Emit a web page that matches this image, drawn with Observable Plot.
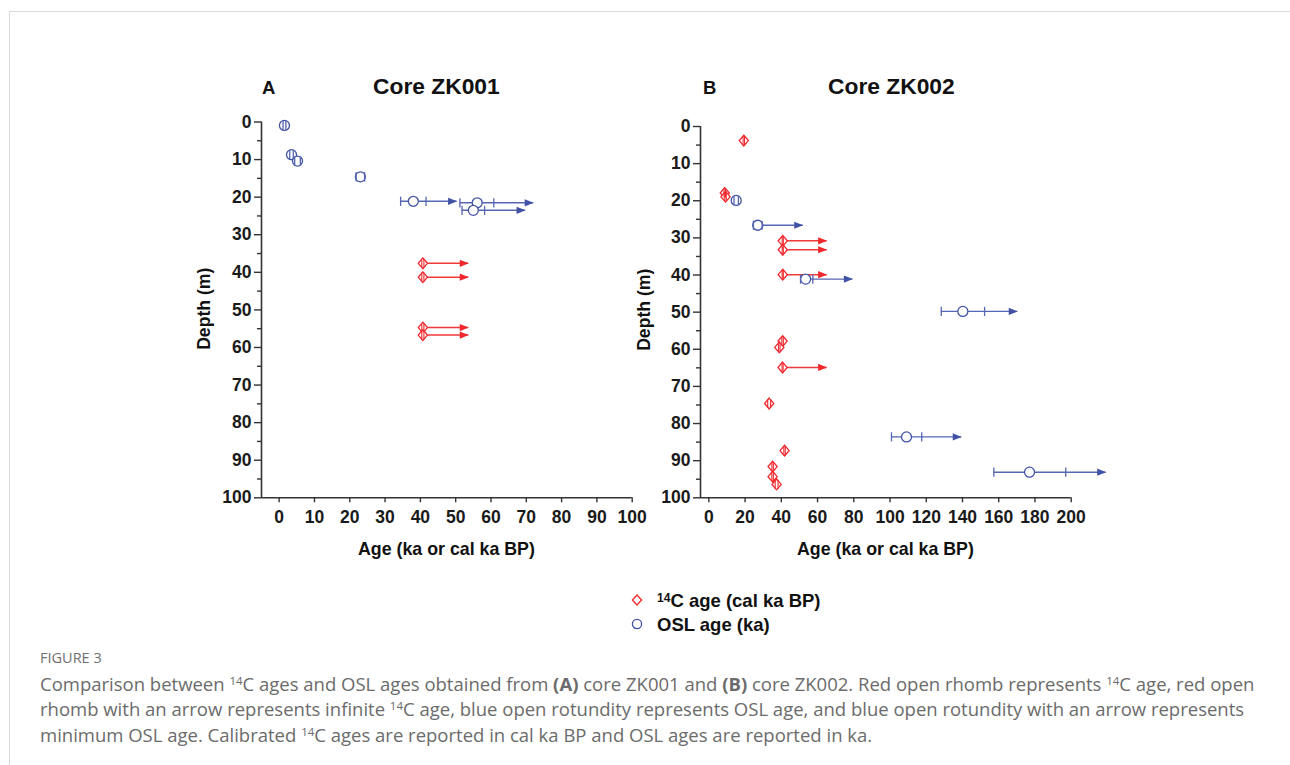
<!DOCTYPE html>
<html>
<head>
<meta charset="utf-8">
<script src="https://cdn.jsdelivr.net/npm/d3@7"></script>
<script src="https://cdn.jsdelivr.net/npm/@observablehq/plot@0.6"></script>
<style>
  html, body { margin: 0; padding: 0; background: #fff; }
  #page { position: relative; width: 1290px; height: 765px; overflow: hidden; background: #fff; }
  #frame { position: absolute; left: 9px; top: 11px; width: 1400px; height: 900px; border-top: 1px solid #d9d9d9; border-left: 1px solid #d9d9d9; }
  .panel { position: absolute; top: 0; }
  .panel svg text { font-weight: bold; }
  .lbl { position: absolute; font-family: Arial, "Liberation Sans", sans-serif; font-weight: bold; color: #111; line-height: 1; white-space: nowrap; }
  .cap { position: absolute; left: 40px; font-family: "Open Sans", sans-serif; color: #6b6b6b; white-space: nowrap; }
  .cap sup { font-size: 0.62em; vertical-align: 0; position: relative; top: -0.55em; }
  .lbl sup { font-size: 0.65em; vertical-align: 0; position: relative; top: -0.45em; }
</style>
</head>
<body>
<div id="page">
  <div id="frame"></div>
  <div id="panelA" class="panel" style="left:190px"></div>
  <div id="panelB" class="panel" style="left:630px"></div>
</div>
<script>
// ---------------- data ----------------
// Core ZK001 — OSL ages (ka)
const a_osl_depth = [0.9, 8.7, 10.4, 14.6, 21.1, 21.5, 23.5];
const a_osl_age   = [1.5, 3.5, 5.2, 23.0, 38.0, 56.1, 55.0];
const a_osl_lo    = [1.1, 3.0, 4.4, 21.8, 34.4, 51.2, 51.8];
const a_osl_hi    = [1.9, 4.0, 6.0, 24.2, 41.6, 60.8, 58.2];
const a_osl_min   = [null, null, null, null, 50.4, 72.1, 69.8];   // arrow tip (minimum age)

// Core ZK001 — 14C ages (cal ka BP), all infinite
const a_c14_depth = [37.6, 41.3, 54.7, 56.7];
const a_c14_age   = [40.7, 40.7, 40.7, 40.7];
const a_c14_lo    = [40.4, 40.4, 40.4, 40.4];
const a_c14_hi    = [41.0, 41.0, 41.0, 41.0];
const a_c14_min   = [53.7, 53.7, 53.7, 53.7];

// Core ZK002 — 14C ages (cal ka BP)
const b_c14_depth = [3.8, 17.9, 18.9, 30.8, 33.2, 39.9, 57.8, 59.5, 64.9, 74.6, 87.3, 91.6, 94.3, 96.4];
const b_c14_age   = [19.3, 8.8, 9.2, 40.8, 40.8, 40.8, 40.7, 38.9, 40.7, 33.3, 41.8, 35.2, 35.2, 37.4];
const b_c14_lo    = [18.9, 8.4, 8.8, 40.5, 40.5, 40.5, 40.3, 38.5, 40.4, 32.5, 41.4, 34.8, 34.8, 36.6];
const b_c14_hi    = [19.7, 9.2, 9.6, 41.1, 41.1, 41.1, 41.1, 39.3, 41.0, 34.1, 42.2, 35.6, 35.6, 38.2];
const b_c14_min   = [null, null, null, 65.3, 65.3, 65.3, null, null, 65.3, null, null, null, null, null];

// Core ZK002 — OSL ages (ka)
const b_osl_depth = [19.9, 26.6, 41.1, 49.8, 83.6, 93.1];
const b_osl_age   = [15.1, 27.0, 53.4, 140.2, 109.1, 177.0];
const b_osl_lo    = [13.9, 24.6, 50.6, 128.3, 100.8, 157.3];
const b_osl_hi    = [16.3, 29.4, 57.4, 152.2, 117.5, 197.0];
const b_osl_min   = [null, 52.1, 79.5, 170.5, 139.6, 219.3];

// axes
const depthDomain = [0, 100];
const depthMajor = [0, 10, 20, 30, 40, 50, 60, 70, 80, 90, 100];
const depthMinor = [5, 15, 25, 35, 45, 55, 65, 75, 85, 95];
const ageTicksA = [0, 10, 20, 30, 40, 50, 60, 70, 80, 90, 100];
const ageTicksB = [0, 20, 40, 60, 80, 100, 120, 140, 160, 180, 200];
const ageDomainA = [-5.0, 100];
const ageDomainB = [-4.6, 200];

const RED = "#f0282d", RED_LINE = "#f23a3a";
const BLUE = "#4152a6", BLUE_LINE = "#5566b2";

// ---------------- helpers ----------------
function table(depth, age, lo, hi, min) {
  return age.map((a, i) => ({depth: depth[i], age: a, lo: lo[i], hi: hi[i], min: min[i],
    end: min[i] != null ? min[i] : hi[i]}));
}
const arrowHead = {draw(ctx) { ctx.moveTo(0, 0); ctx.lineTo(-9, -3.6); ctx.lineTo(-9, 3.6); ctx.closePath(); }};
const diamond = {draw(ctx) { ctx.moveTo(0, -5.4); ctx.lineTo(4.6, 0); ctx.lineTo(0, 5.4); ctx.lineTo(-4.6, 0); ctx.closePath(); }};
const capBar = {draw(ctx) { ctx.moveTo(0, -4.6); ctx.lineTo(0, 4.6); }};

function panel(osl, c14, xDomain, xTicks, marginTop, marginLeft, marginRight, width) {
  const xMin = xDomain[0], xMax = xDomain[1];
  return Plot.plot({
    width, height: 570,
    marginTop, marginBottom: 72.7, marginLeft, marginRight,
    style: {fontFamily: "Arial, 'Liberation Sans', sans-serif", fontSize: "17.5px", color: "#1a1a1a", overflow: "visible", background: "transparent"},
    x: {domain: xDomain},
    y: {domain: depthDomain, reverse: true},
    marks: [
      // axis lines
      Plot.ruleY([depthDomain[1]], {x1: xMin, x2: xMax, stroke: "#333", strokeWidth: 1.6}),
      Plot.ruleX([xMin], {y1: depthDomain[0], y2: depthDomain[1], stroke: "#333", strokeWidth: 1.6}),
      Plot.axisX(xTicks, {anchor: "bottom", tickSize: 5, tickPadding: 8, label: null, stroke: "#333", strokeWidth: 1.4, fontSize: 17.5, fontWeight: "bold"}),
      Plot.axisY(depthMajor, {anchor: "left", tickSize: 7, tickPadding: 3, label: null, stroke: "#333", strokeWidth: 1.4, fontSize: 17.5, fontWeight: "bold"}),
      Plot.axisY(depthMinor, {anchor: "left", tickSize: 4, tickPadding: 3, label: null, stroke: "#333", strokeWidth: 1.4, tickFormat: () => ""}),
      // error / arrow lines
      Plot.ruleY(osl, {y: "depth", x1: "lo", x2: "end", stroke: BLUE_LINE, strokeWidth: 1.4}),
      Plot.ruleY(c14.filter(d => d.min != null), {y: "depth", x1: "age", x2: "min", stroke: RED_LINE, strokeWidth: 1.5}),
      // arrow heads
      Plot.dot(osl.filter(d => d.min != null), {x: "min", y: "depth", symbol: arrowHead, fill: BLUE, stroke: "none"}),
      Plot.dot(c14.filter(d => d.min != null), {x: "min", y: "depth", symbol: arrowHead, fill: RED, stroke: "none"}),
      // markers
      Plot.dot(osl, {x: "age", y: "depth", r: 5, fill: "white", stroke: BLUE, strokeWidth: 1.3}),
      Plot.dot(c14, {x: "age", y: "depth", symbol: diamond, fill: "white", stroke: RED, strokeWidth: 1.3}),
      // error caps
      Plot.dot(osl, {x: "lo", y: "depth", symbol: capBar, fill: "none", stroke: BLUE_LINE, strokeWidth: 1.3}),
      Plot.dot(osl, {x: "hi", y: "depth", symbol: capBar, fill: "none", stroke: BLUE_LINE, strokeWidth: 1.3}),
      Plot.dot(c14, {x: "lo", y: "depth", symbol: capBar, fill: "none", stroke: RED, strokeWidth: 1.1}),
      Plot.dot(c14, {x: "hi", y: "depth", symbol: capBar, fill: "none", stroke: RED, strokeWidth: 1.1})
    ]
  });
}

const A = panel(
  table(a_osl_depth, a_osl_age, a_osl_lo, a_osl_hi, a_osl_min),
  table(a_c14_depth, a_c14_age, a_c14_lo, a_c14_hi, a_c14_min),
  ageDomainA, ageTicksA, 121.5, 71, 18.3, 460);
document.getElementById("panelA").appendChild(A);

const B = panel(
  table(b_osl_depth, b_osl_age, b_osl_lo, b_osl_hi, b_osl_min),
  table(b_c14_depth, b_c14_age, b_c14_lo, b_c14_hi, b_c14_min),
  ageDomainB, ageTicksB, 126, 70, 59.3, 500);
document.getElementById("panelB").appendChild(B);

// ---------------- text ----------------
const page = document.getElementById("page");
function label(html, opts) {
  const d = document.createElement("div");
  d.className = "lbl";
  d.innerHTML = html;
  d.style.fontSize = opts.size + "px";
  page.appendChild(d);
  const w = d.offsetWidth;
  let left = opts.anchor === "middle" ? opts.x - w / 2 : opts.x;
  d.style.left = left + "px";
  d.style.top = (opts.y - 0.49 * opts.size) + "px";
  if (opts.rotate) {
    d.style.left = (opts.x - w / 2) + "px";
    d.style.top = (opts.y - opts.size / 2) + "px";
    d.style.transform = "rotate(-90deg)";
  }
  return d;
}
label("A", {x: 262, y: 88, size: 18.5});
label("Core ZK001", {x: 436.5, y: 86, size: 22.8, anchor: "middle"});
label("B", {x: 703, y: 88, size: 18.5});
label("Core ZK002", {x: 891.5, y: 86, size: 22.8, anchor: "middle"});
label("Age (ka or cal ka BP)", {x: 446.5, y: 550, size: 17.8, anchor: "middle"});
label("Age (ka or cal ka BP)", {x: 885.5, y: 550, size: 17.8, anchor: "middle"});
label("Depth (m)", {x: 205, y: 309, size: 17.6, rotate: true});
label("Depth (m)", {x: 645, y: 310, size: 17.6, rotate: true});

// legend
const leg = document.createElement("div");
leg.style.cssText = "position:absolute;left:630px;top:590px;width:20px;height:45px;";
leg.innerHTML = `<svg width="20" height="45" style="position:absolute;left:0;top:0">
  <path d="M7,5 L11.6,10 L7,15 L2.4,10 Z" fill="white" stroke="${RED}" stroke-width="1.3"/>
  <circle cx="7" cy="34" r="4.6" fill="white" stroke="${BLUE}" stroke-width="1.3"/></svg>`;
page.appendChild(leg);
label("<sup>14</sup>C age (cal ka BP)", {x: 657, y: 601, size: 18.5});
label("OSL age (ka)", {x: 657, y: 625, size: 18.5});

// caption
const fig = document.createElement("div");
fig.className = "cap";
fig.style.cssText += "top:651px;font-size:14.5px;line-height:14px;color:#707070;";
fig.textContent = "FIGURE 3";
page.appendChild(fig);
const cap = document.createElement("div");
cap.className = "cap";
cap.style.cssText += "top:673px;font-size:18.5px;line-height:22.4px;";
cap.innerHTML = "Comparison between <sup>14</sup>C ages and OSL ages obtained from <b>(A)</b> core ZK001 and <b>(B)</b> core ZK002. Red open rhomb represents <sup>14</sup>C age, red open<br>" +
  "rhomb with an arrow represents infinite <sup>14</sup>C age, blue open rotundity represents OSL age, and blue open rotundity with an arrow represents<br>" +
  "minimum OSL age. Calibrated <sup>14</sup>C ages are reported in cal ka BP and OSL ages are reported in ka.";
page.appendChild(cap);
</script>
</body>
</html>
